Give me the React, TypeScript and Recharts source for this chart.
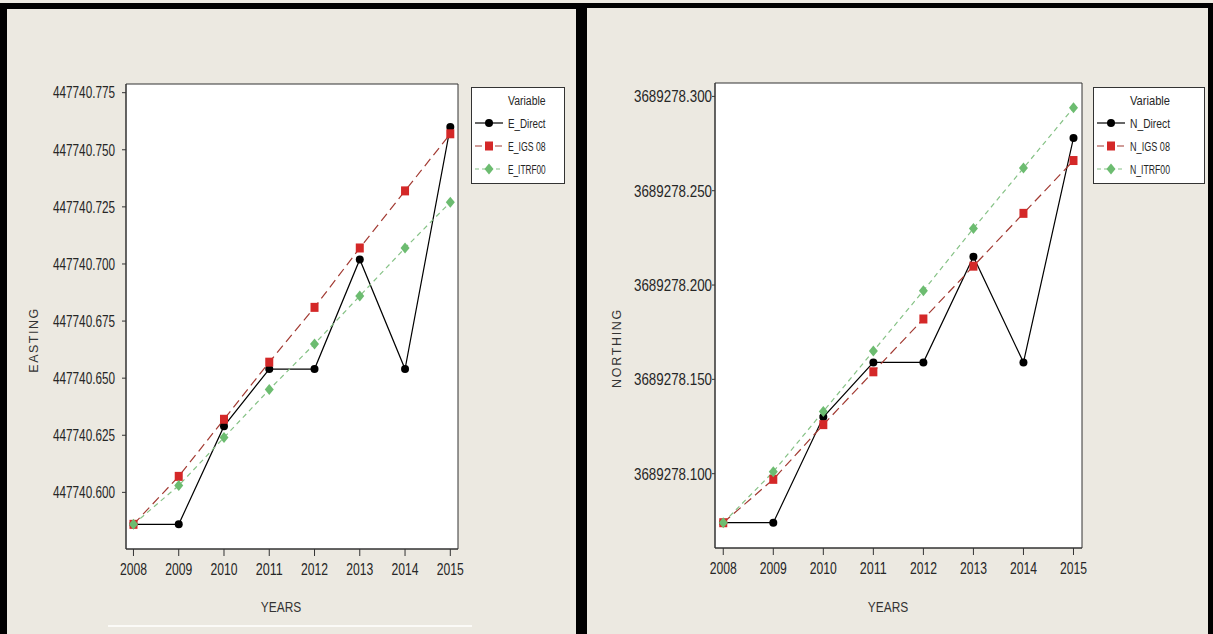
import React from 'react';
import { LineChart, Line, XAxis, YAxis, ReferenceArea } from 'recharts';

const years = [2008, 2009, 2010, 2011, 2012, 2013, 2014, 2015];

// Easting series (m)
const eDirect = [447740.586, 447740.586, 447740.629, 447740.654, 447740.654, 447740.702, 447740.654, 447740.760];
const eIgs08 = [447740.586, 447740.607, 447740.632, 447740.657, 447740.681, 447740.707, 447740.732, 447740.757];
const eItrf00 = [447740.586, 447740.603, 447740.624, 447740.645, 447740.665, 447740.686, 447740.707, 447740.727];
const eTicks = [447740.600, 447740.625, 447740.650, 447740.675, 447740.700, 447740.725, 447740.750, 447740.775];
const eDomain = [447740.5752, 447740.7788];

// Northing series (m)
const nDirect = [3689278.074, 3689278.074, 3689278.130, 3689278.159, 3689278.159, 3689278.215, 3689278.159, 3689278.278];
const nIgs08 = [3689278.074, 3689278.097, 3689278.126, 3689278.154, 3689278.182, 3689278.210, 3689278.238, 3689278.266];
const nItrf00 = [3689278.074, 3689278.101, 3689278.133, 3689278.165, 3689278.197, 3689278.230, 3689278.262, 3689278.294];
const nTicks = [3689278.100, 3689278.150, 3689278.200, 3689278.250, 3689278.300];
const nDomain = [3689278.0606, 3689278.3071];

const xDomain = [2007.835, 2015.17];

const BG = '#ece9e1';
const SANS = '"Liberation Sans", Arial, sans-serif';
const TEXT = '#262626';
const DIRECT = '#000000';
const IGS_LINE = '#a23a32';
const IGS_MARK = '#d42828';
const ITRF_LINE = '#86c286';
const ITRF_MARK = '#6cbc70';

const circleDot = (p: any) => <circle key={`c${p.index}`} cx={p.cx} cy={p.cy} r={4} fill={DIRECT} />;
const squareDot = (p: any) => <rect key={`s${p.index}`} x={p.cx - 4} y={p.cy - 4.5} width={8} height={9} fill={IGS_MARK} />;
const diamondDot = (p: any) => (
  <polygon key={`d${p.index}`} fill={ITRF_MARK}
    points={`${p.cx},${p.cy - 5.5} ${p.cx + 4.5},${p.cy} ${p.cx},${p.cy + 5.5} ${p.cx - 4.5},${p.cy}`} />
);

// narrow, tall tick text: squeeze the glyphs to a fixed width
const narrowText = (fontSize: number, width: number, anchor: string, dy: string, fmt: (v: number) => string) => (p: any) =>
  <text x={p.x} y={p.y} dy={dy} textAnchor={anchor} fontFamily={SANS} fontSize={fontSize} fill={TEXT}
    textLength={width} lengthAdjust="spacingAndGlyphs">{fmt(p.payload.value)}</text>;

function buildRows(direct: number[], igs: number[], itrf: number[]) {
  return years.map((year, i) => ({ year, direct: direct[i], igs: igs[i], itrf: itrf[i] }));
}

function Legend({ names, left, top, width, height, charW, fontSize }: any) {
  const rows = [
    { name: names[0], stroke: DIRECT, dash: undefined, mark: 'circle' },
    { name: names[1], stroke: IGS_LINE, dash: '7 3', mark: 'square' },
    { name: names[2], stroke: ITRF_LINE, dash: '4 3', mark: 'diamond' }
  ];
  const label = (s: string, x: number, y: number) =>
    <text x={x} y={y} fontFamily={SANS} fontSize={fontSize} fill={TEXT} textLength={s.length * charW} lengthAdjust="spacingAndGlyphs">{s}</text>;
  return <div style={{ position: 'absolute', left, top, width, height, background: '#fff', border: '1px solid #333', boxSizing: 'border-box' }}>
      <svg width={width - 2} height={height - 2} style={{ display: 'block', overflow: 'visible' }}>
        {label('Variable', 36, 17)}
        {rows.map((r, i) => {
        const y = 35 + i * 23;
        return <g key={r.name}>
              <line x1={3} x2={31} y1={y} y2={y} stroke={r.stroke} strokeWidth={1.2} strokeDasharray={r.dash} />
              {r.mark === 'circle' && <circle cx={17} cy={y} r={4} fill={DIRECT} />}
              {r.mark === 'square' && <rect x={13} y={y - 4.5} width={8} height={9} fill={IGS_MARK} />}
              {r.mark === 'diamond' && <polygon points={`17,${y - 5.5} 21.5,${y} 17,${y + 5.5} 12.5,${y}`} fill={ITRF_MARK} />}
              {label(r.name, 36, y + 4.5)}
            </g>;
      })}
      </svg>
    </div>;
}

function Panel({ data, domain, ticks, left, width, top, plotLeft, plotRight, plotBottom, yFont, yWidth, yTick, yMargin }: any) {
  return <div style={{ position: 'absolute', left, top: 0 }}>
      <LineChart width={width} height={634} data={data} margin={{ top, right: width - plotRight, bottom: 0, left: 0 }}>
        <ReferenceArea x1={xDomain[0]} x2={xDomain[1]} y1={domain[0]} y2={domain[1]} fill="#fff" fillOpacity={1} stroke="#333" strokeWidth={1} />
        <XAxis dataKey="year" type="number" domain={xDomain} ticks={years} interval={0} height={634 - plotBottom}
          tickSize={7} tickMargin={8} axisLine={{ stroke: '#333' }} tickLine={{ stroke: '#333' }}
          tick={narrowText(16, 27, 'middle', '0.71em', v => String(v))} />
        <YAxis type="number" domain={domain} ticks={ticks} interval={0} width={plotLeft}
          tickSize={yTick} tickMargin={yMargin} axisLine={{ stroke: '#333' }} tickLine={{ stroke: '#333' }}
          tick={narrowText(yFont, yWidth, 'end', '0.36em', v => v.toFixed(3))} />
        <Line dataKey="direct" stroke={DIRECT} strokeWidth={1.2} dot={circleDot} isAnimationActive={false} />
        <Line dataKey="igs" stroke={IGS_LINE} strokeWidth={1.2} strokeDasharray="9 5" dot={squareDot} isAnimationActive={false} />
        <Line dataKey="itrf" stroke={ITRF_LINE} strokeWidth={1.2} strokeDasharray="5 4" dot={diamondDot} isAnimationActive={false} />
      </LineChart>
    </div>;
}

export default function App() {
  const eastRows = buildRows(eDirect, eIgs08, eItrf00);
  const northRows = buildRows(nDirect, nIgs08, nItrf00);
  const axisTitle: React.CSSProperties = { position: 'absolute', fontFamily: SANS, fontSize: 12.5, color: '#333', whiteSpace: 'nowrap' };
  return <div style={{ position: 'absolute', left: 0, top: 0, width: 1213, height: 634, background: BG, overflow: 'hidden' }}>
      <div style={{ position: 'absolute', left: 0, top: 3, width: 582, height: 660, border: '6px solid #000', borderLeftWidth: 7, boxSizing: 'border-box' }} />
      <div style={{ position: 'absolute', left: 582, top: 3, width: 631, height: 660, border: '5px solid #000', boxSizing: 'border-box' }} />
      <div style={{ position: 'absolute', left: 108, top: 625, width: 364, height: 2, background: '#fbfaf7' }} />

      <Panel data={eastRows} domain={eDomain} ticks={eTicks} left={0} width={575} top={84}
        plotLeft={126} plotRight={458} plotBottom={549} yFont={16} yWidth={62} yTick={4} yMargin={7} />
      <Panel data={northRows} domain={nDomain} ticks={nTicks} left={587} width={620} top={83}
        plotLeft={128} plotRight={495} plotBottom={548} yFont={16.5} yWidth={78} yTick={3} yMargin={0} />

      <div style={{ ...axisTitle, left: 34, top: 340, transform: 'translate(-50%, -50%) rotate(-90deg)', letterSpacing: 1.5 }}>EASTING</div>
      <div style={{ ...axisTitle, left: 617, top: 348, transform: 'translate(-50%, -50%) rotate(-90deg)', letterSpacing: 1.7 }}>NORTHING</div>
      <div style={{ ...axisTitle, left: 281, top: 607, transform: 'translate(-50%, -50%) scaleX(0.85)', fontSize: 14 }}>YEARS</div>
      <div style={{ ...axisTitle, left: 888, top: 607, transform: 'translate(-50%, -50%) scaleX(0.85)', fontSize: 14 }}>YEARS</div>

      <Legend names={['E_Direct', 'E_IGS 08', 'E_ITRF00']} left={471} top={87} width={94} height={97} charW={4.7} fontSize={12} />
      <Legend names={['N_Direct', 'N_IGS 08', 'N_ITRF00']} left={1093} top={87} width={112} height={97} charW={5} fontSize={13} />
    </div>;
}
